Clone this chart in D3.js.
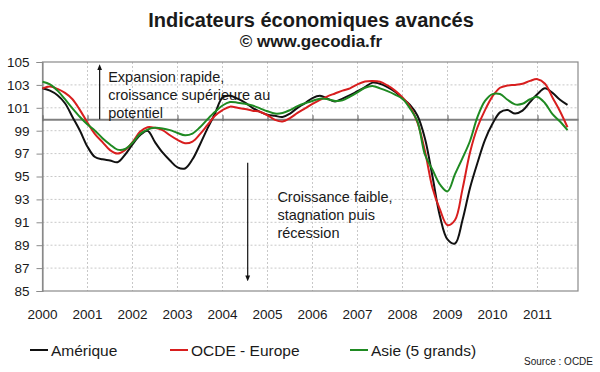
<!DOCTYPE html>
<html>
<head>
<meta charset="utf-8">
<script src="https://cdn.jsdelivr.net/npm/d3@7"></script>
<style>
  body { margin: 0; background: #fff; }
  text { font-family: "Liberation Sans", Arial, sans-serif; fill: #1a1a1a; }
</style>
</head>
<body>
<div id="chart"></div>
<script>
var w = 600;
var h = 372;

// time in years, one point every 2 months (2000 -> 2011.67)
var dates = d3.range(0, 71).map(function(k) { return 2000 + k / 6; });

var amerique = [102.7, 102.5, 102.1, 101.4, 100.2, 99.0, 97.6, 96.7, 96.5, 96.4,
  96.25, 96.9, 97.8, 98.6, 99.0, 98.0, 97.1, 96.4, 95.8, 95.7,
  96.5, 97.8, 99.2, 100.5, 101.9, 102.05, 101.8, 101.45, 101.0, 100.65,
  100.4, 100.3, 100.2, 100.5, 101.0, 101.4, 101.85, 102.05, 101.8, 101.55,
  101.8, 102.1, 102.45, 102.8, 103.2, 103.1, 102.8, 102.4, 101.8, 101.25,
  100.3, 98.3, 95.0, 91.5, 89.5, 89.15, 91.2, 94.0, 96.2, 98.2,
  99.6, 100.6, 100.8, 100.5, 100.75, 101.5, 102.2, 102.7, 102.3, 101.7, 101.25];

var europe = [102.7, 102.85, 102.65, 102.3, 101.75, 100.8, 99.7, 98.7, 98.0, 97.3,
  97.0, 97.3, 98.0, 98.9, 99.3, 99.25, 99.05, 98.6, 98.2, 97.9,
  98.05, 98.7, 99.5, 100.3, 100.8, 101.1, 101.0, 100.9, 100.75, 100.65,
  100.35, 99.95, 99.8, 100.1, 100.55, 100.95, 101.35, 101.7, 102.0, 102.25,
  102.5, 102.7, 103.05, 103.3, 103.35, 103.28, 102.95, 102.5, 101.9, 101.1,
  99.7, 97.2, 94.0, 92.1, 90.75, 91.2, 93.9, 97.1, 99.3, 100.8,
  102.0, 102.75, 102.95, 103.0, 103.1, 103.35, 103.5, 103.1, 101.9, 100.7, 99.3];

var asie = [103.28, 103.05, 102.5, 101.75, 100.95, 100.2, 99.55, 99.0, 98.35, 97.8,
  97.35, 97.4, 97.95, 98.7, 99.1, 99.25, 99.2, 99.05, 98.8, 98.6,
  98.75, 99.3, 100.0, 100.65, 101.2, 101.5, 101.45, 101.35, 101.2, 100.95,
  100.7, 100.5, 100.55, 100.8, 101.15, 101.4, 101.6, 101.8, 101.75, 101.6,
  101.65, 101.97, 102.35, 102.75, 102.9, 102.7, 102.45, 102.15, 101.8, 100.95,
  99.8, 96.9, 95.6, 94.3, 93.7, 95.2, 96.6, 98.1, 100.2, 101.6,
  102.2, 102.2, 101.7, 101.3, 101.35, 101.75, 101.95, 101.4, 100.45, 99.8, 99.05];

var seriesNames = ["Amérique", "OCDE - Europe", "Asie (5 grands)"];
var seriesColors = ["#111111", "#d81e1e", "#1f8a22"];
var years = d3.range(2000, 2012);
var yTicks = d3.range(85, 106, 2);

var svg = d3.select("#chart").append("svg")
  .attr("width", w).attr("height", h);

svg.append("rect").attr("width", w).attr("height", h).attr("fill", "#fff");

var x = d3.scaleLinear().domain([2000, 2011.9]).range([42.5, 578]);
var y = d3.scaleLinear().domain([85, 105]).range([291, 62]);

// titles
svg.append("text").attr("x", 311).attr("y", 27)
  .attr("text-anchor", "middle").attr("font-size", 20).attr("font-weight", "bold")
  .text("Indicateurs économiques avancés");
svg.append("text").attr("x", 311).attr("y", 47)
  .attr("text-anchor", "middle").attr("font-size", 17).attr("font-weight", "bold")
  .text("© www.gecodia.fr");

// grid
var grid = svg.append("g").attr("stroke", "#c8c8c8").attr("stroke-dasharray", "2,2");
grid.selectAll(".hg").data(yTicks.filter(function(d) { return d > 85 && d < 105; }))
  .enter().append("line")
  .attr("x1", x(2000)).attr("x2", x.range()[1])
  .attr("y1", function(d) { return y(d); }).attr("y2", function(d) { return y(d); });
grid.selectAll(".vg").data(years.slice(1))
  .enter().append("line")
  .attr("y1", y(105)).attr("y2", y(85))
  .attr("x1", function(d) { return x(d); }).attr("x2", function(d) { return x(d); });

// plot frame
svg.append("rect")
  .attr("x", x(2000)).attr("y", y(105))
  .attr("width", x.range()[1] - x(2000)).attr("height", y(85) - y(105))
  .attr("fill", "none").attr("stroke", "#8a8a8a").attr("stroke-width", 1.2);

// y axis
var yAxis = svg.append("g")
  .attr("transform", "translate(" + x(2000) + ",0)")
  .call(d3.axisLeft(y).tickValues(yTicks).tickSize(6).tickPadding(7));
yAxis.select(".domain").attr("stroke", "#8a8a8a").attr("stroke-width", 1.2);
yAxis.selectAll(".tick line").attr("stroke", "#8a8a8a");
yAxis.selectAll("text").attr("font-size", 13.5)
  .attr("font-family", "Liberation Sans, Arial, sans-serif").attr("fill", "#1a1a1a");

// x axis at 100 (ticks) with labels below the plot
var xAxis = svg.append("g")
  .attr("transform", "translate(0," + y(100) + ")")
  .call(d3.axisBottom(x).tickValues(years).tickSize(0).tickFormat(""));
xAxis.select(".domain").attr("stroke", "#808080").attr("stroke-width", 1.8);
xAxis.selectAll(".tick").append("line")
  .attr("y1", -4).attr("y2", 2).attr("stroke", "#707070").attr("stroke-width", 1.2);

svg.append("g").selectAll("text").data(years).enter().append("text")
  .attr("x", function(d) { return x(d); }).attr("y", 319)
  .attr("text-anchor", "middle").attr("font-size", 13.5)
  .text(function(d) { return d; });

// annotations
var ann = svg.append("g");
ann.append("defs").append("marker")
  .attr("id", "ah").attr("viewBox", "0 0 10 10").attr("refX", 5).attr("refY", 5)
  .attr("markerWidth", 5).attr("markerHeight", 6).attr("orient", "auto")
  .append("path").attr("d", "M0,1 L10,5 L0,9 Z").attr("fill", "#111");
ann.append("line")
  .attr("x1", x(2001.27)).attr("x2", x(2001.27))
  .attr("y1", y(100)).attr("y2", y(104.55))
  .attr("stroke", "#111").attr("stroke-width", 1.2).attr("marker-end", "url(#ah)");
ann.append("line")
  .attr("x1", x(2004.56)).attr("x2", x(2004.56))
  .attr("y1", y(96.2)).attr("y2", y(86.1))
  .attr("stroke", "#111").attr("stroke-width", 1.2).attr("marker-end", "url(#ah)");

var upText = ["Expansion rapide,", "croissance supérieure au", "potentiel"];
var downText = ["Croissance faible,", "stagnation puis", "récession"];
ann.selectAll(".up").data(upText).enter().append("text")
  .attr("x", x(2001.46)).attr("y", function(d, i) { return 82 + i * 18.2; })
  .attr("font-size", 14.5).text(function(d) { return d; });
ann.selectAll(".down").data(downText).enter().append("text")
  .attr("x", x(2005.22)).attr("y", function(d, i) { return 202 + i * 18.2; })
  .attr("font-size", 14.5).text(function(d) { return d; });

// series
var line = d3.line()
  .x(function(d, i) { return x(dates[i]); })
  .y(function(d) { return y(d); })
  .curve(d3.curveCatmullRom.alpha(0.5));

var allSeries = [amerique, europe, asie];
svg.append("g").selectAll("path").data(allSeries).enter().append("path")
  .attr("d", line)
  .attr("fill", "none")
  .attr("stroke", function(d, i) { return seriesColors[i]; })
  .attr("stroke-width", 2)
  .attr("stroke-linejoin", "round");

// legend
var legX = [30, 170, 350];
var leg = svg.append("g").selectAll("g").data(seriesNames).enter().append("g")
  .attr("transform", function(d, i) { return "translate(" + legX[i] + ",350)"; });
leg.append("line").attr("x1", 0).attr("x2", 18)
  .attr("stroke", function(d, i) { return seriesColors[i]; }).attr("stroke-width", 2);
leg.append("text").attr("x", 21).attr("y", 5.5).attr("font-size", 15.5)
  .text(function(d) { return d; });

svg.append("text").attr("x", 593).attr("y", 365).attr("text-anchor", "end")
  .attr("font-size", 10).attr("fill", "#333").text("Source : OCDE");
</script>
</body>
</html>
